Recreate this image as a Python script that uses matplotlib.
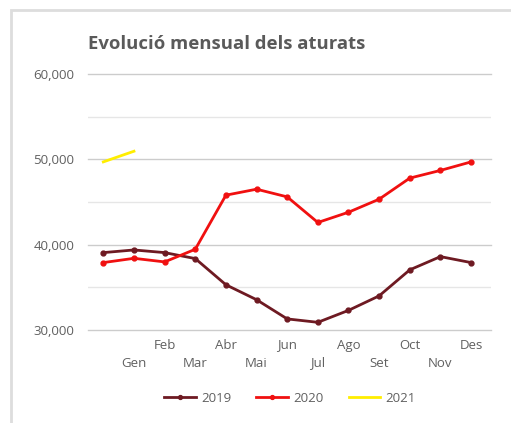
import matplotlib
matplotlib.use("Agg")
import matplotlib.pyplot as plt
from matplotlib.patches import Rectangle
from matplotlib.ticker import MultipleLocator, FuncFormatter

plt.rcParams['font.family'] = ['Open Sans', 'DejaVu Sans']

months = ["", "Gen", "Feb", "Mar", "Abr", "Mai", "Jun", "Jul", "Ago", "Set", "Oct", "Nov", "Des"]
v2019 = [39070, 39380, 39070, 38370, 35300, 33550, 31300, 30900, 32300, 34000, 37050, 38600, 37900]
v2020 = [37900, 38400, 37980, 39460, 45800, 46500, 45600, 42600, 43800, 45330, 47800, 48700, 49700]
v2021 = [49700, 50950]

c2019 = "#6e1a22"
c2020 = "#f01010"
c2021 = "#ffee00"
txt = "#606060"

W, H = 511, 423
fig = plt.figure(figsize=(W / 100, H / 100), dpi=100)
x0, x1, yt, yb = 88, 491, 74, 330
ax = fig.add_axes([x0 / W, 1 - yb / H, (x1 - x0) / W, (yb - yt) / H])

xs = list(range(len(months)))
ax.plot(xs, v2019, color=c2019, lw=2, marker="o", ms=3.5, label="2019", zorder=3)
ax.plot(xs, v2020, color=c2020, lw=2, marker="o", ms=3.5, label="2020", zorder=3)
ax.plot(list(range(len(v2021))), v2021, color=c2021, lw=2, label="2021", zorder=3)

ax.set_xlim(-0.5, 12.65)
ax.set_ylim(30000, 60000)
ax.yaxis.set_major_locator(MultipleLocator(10000))
ax.yaxis.set_minor_locator(MultipleLocator(5000))
ax.yaxis.set_major_formatter(FuncFormatter(lambda v, p: f"{int(v):,}"))
ax.grid(True, which="major", axis="y", color="#cccccc", lw=1)
ax.grid(True, which="minor", axis="y", color="#e6e6e6", lw=1)
for gl in ax.yaxis.get_gridlines():
    gl.set_clip_on(False)
ax.set_axisbelow(True)
for s in ax.spines.values():
    s.set_visible(False)
ax.tick_params(axis="y", which="both", length=0, pad=10, labelsize=9.5, labelcolor=txt)
ax.tick_params(axis="x", length=0, labelbottom=False)

# staggered category labels
for i, m in enumerate(months):
    if not m:
        continue
    dy = -15 if i % 2 == 0 else -33
    ax.annotate(m, xy=(i, 30000), xytext=(0, dy), textcoords="offset pixels",
                ha="center", va="center", fontsize=9.5, color=txt, annotation_clip=False)

fig.text(x0 / W, 1 - 44 / H, "Evolució mensual dels aturats", fontsize=13.3, fontweight="bold",
         color="#5a5a5a", ha="left", va="center")

leg = fig.legend(loc="center", bbox_to_anchor=(290 / W, 1 - 398 / H), ncol=3, frameon=False,
                 fontsize=9.5, handlelength=2.4, handletextpad=0.4, columnspacing=1.9, markerscale=0.8)
for t in leg.get_texts():
    t.set_color(txt)

fig.patches.append(Rectangle((10.5 / W, -0.1), 1.2, 1 - 10.5 / H + 0.1, transform=fig.transFigure,
                             fill=False, edgecolor="#dddddd", lw=2, clip_on=False))

fig.savefig("out.png", dpi=100, facecolor="white")
